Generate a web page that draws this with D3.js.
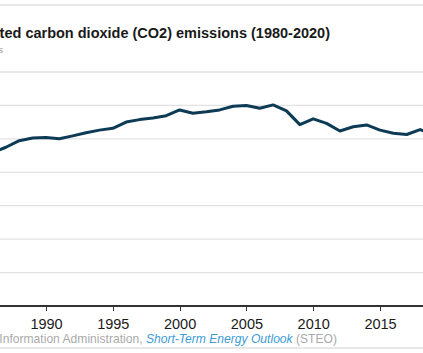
<!DOCTYPE html>
<html lang="en">
<head>
    <meta charset="UTF-8">
    <title>U.S. energy-related CO2 emissions</title>
    <style>
        body { margin: 0; background: #fff; }
        svg text { font-family: "Liberation Sans", Arial, sans-serif; }
        .x_axis path, .x_axis line { stroke: #333; shape-rendering: crispEdges; }
        .x_axis text { font-size: 14.5px; fill: #1a1a1a; }
    </style>
</head>
<body>
    <script src="https://cdn.jsdelivr.net/npm/d3@7"></script>
    <script>
        const years = [1980, 1981, 1982, 1983, 1984, 1985, 1986, 1987, 1988, 1989,
            1990, 1991, 1992, 1993, 1994, 1995, 1996, 1997, 1998, 1999,
            2000, 2001, 2002, 2003, 2004, 2005, 2006, 2007, 2008, 2009,
            2010, 2011, 2012, 2013, 2014, 2015, 2016, 2017, 2018, 2019, 2020];
        // million metric tons
        const emissions = [4771, 4640, 4436, 4429, 4601, 4594, 4588, 4749, 4945, 5023,
            5040, 5002, 5090, 5182, 5261, 5314, 5502, 5576, 5624, 5692,
            5865, 5766, 5810, 5866, 5975, 6000, 5917, 6016, 5837, 5425,
            5598, 5464, 5236, 5362, 5416, 5262, 5170, 5131, 5277, 5130, 4570];
        const x_ticks = [1980, 1985, 1990, 1995, 2000, 2005, 2010, 2015, 2020];
        const y_ticks = [0, 1000, 2000, 3000, 4000, 5000, 6000, 7000];

        const svg_w = 423, svg_h = 353;

        const svg = d3.select('body').append('svg')
            .attr('width', svg_w)
            .attr('height', svg_h);

        // header / footer rules
        [5, 348].forEach(y => {
            svg.append('line')
                .attr('x1', 0).attr('x2', svg_w)
                .attr('y1', y).attr('y2', y)
                .attr('stroke', '#e8e8e8').attr('stroke-width', 2);
        });

        svg.append('text')
            .attr('x', 330).attr('y', 38)
            .attr('text-anchor', 'end')
            .attr('font-size', 14.5)
            .attr('font-weight', 'bold')
            .attr('fill', '#1a1a1a')
            .text('U.S. energy-related carbon dioxide (CO2) emissions (1980-2020)');

        svg.append('text')
            .attr('x', 3).attr('y', 53)
            .attr('text-anchor', 'end')
            .attr('font-size', 9)
            .attr('fill', '#999')
            .text('million metric tons');

        const x_scale = d3.scaleLinear([1990, 2015], [46, 380]);
        const y_scale = d3.scaleLinear([0, 7000], [306, 72]);

        // gridlines
        svg.append('g').selectAll('line')
            .data(y_ticks.filter(d => d > 0))
            .join('line')
            .attr('x1', 0).attr('x2', svg_w)
            .attr('y1', d => y_scale(d)).attr('y2', d => y_scale(d))
            .attr('stroke', d => d === 7000 ? '#e8e8e8' : '#e2e2e2')
            .attr('stroke-width', d => d === 7000 ? 2 : 1.2);

        const x_axis = d3.axisBottom(x_scale)
            .tickValues(x_ticks)
            .tickFormat(d3.format('d'))
            .tickSize(5)
            .tickSizeOuter(0)
            .tickPadding(8);

        const gx = svg.append('g')
            .attr('class', 'x_axis')
            .attr('transform', `translate(0, ${y_scale(0)})`)
            .call(x_axis);
        gx.select('.domain').attr('d', `M${x_scale(1980)},0H${x_scale(2020)}`).attr('stroke-width', 1.5);

        const line = d3.line()
            .x((d, i) => x_scale(years[i]))
            .y(d => y_scale(d));

        svg.append('path')
            .datum(emissions)
            .attr('d', line)
            .attr('fill', 'none')
            .attr('stroke', '#0d3a55')
            .attr('stroke-width', 3)
            .attr('stroke-linejoin', 'round');

        const src = svg.append('text')
            .attr('x', 337).attr('y', 343)
            .attr('text-anchor', 'end')
            .attr('font-size', 12.1)
            .attr('fill', '#aaa');
        src.append('tspan').text('Source: U.S. Energy Information Administration, ');
        src.append('tspan').attr('fill', '#3d9bd6').attr('font-style', 'italic').text('Short-Term Energy Outlook');
        src.append('tspan').text(' (STEO)');
    </script>
</body>
</html>
